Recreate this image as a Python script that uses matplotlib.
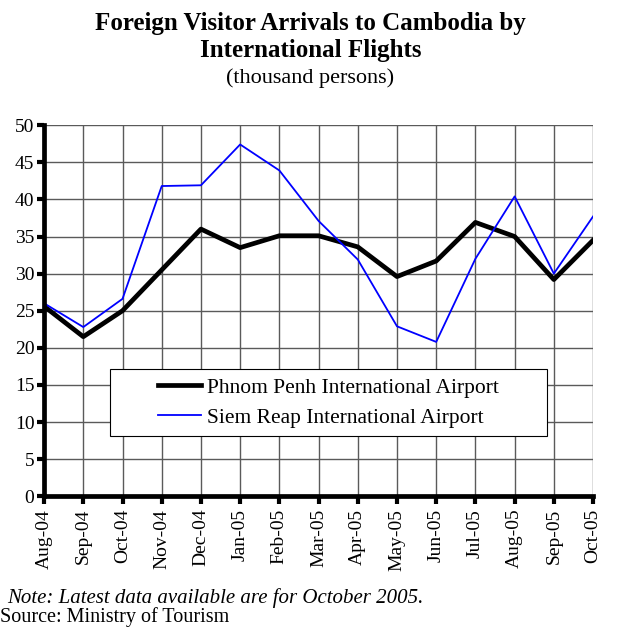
import matplotlib
matplotlib.use('Agg')
import matplotlib.pyplot as plt
from matplotlib.patches import Rectangle

plt.rcParams['font.family'] = ['Liberation Serif', 'DejaVu Serif']

# months and arrivals (thousand persons)
months = ['Aug-04', 'Sep-04', 'Oct-04', 'Nov-04', 'Dec-04', 'Jan-05', 'Feb-05', 'Mar-05',
          'Apr-05', 'May-05', 'Jun-05', 'Jul-05', 'Aug-05', 'Sep-05', 'Oct-05']
phnom_penh = [25.6, 21.5, 25.0, 30.5, 36.0, 33.5, 35.1, 35.1, 33.6, 29.6, 31.7, 36.9, 35.0, 29.2, 34.5]
siem_reap = [26.0, 22.8, 26.6, 41.8, 41.9, 47.4, 43.9, 37.1, 31.9, 22.9, 20.8, 32.0, 40.4, 30.0, 37.7]
y_ticks = [0, 5, 10, 15, 20, 25, 30, 35, 40, 45, 50]

fig = plt.figure(figsize=(6.21, 6.29), dpi=100)
ax = fig.add_axes([0.071, 0.211, 0.884, 0.590])

x = list(range(len(months)))
ax.plot(x, phnom_penh, color='black', linewidth=3.4, label='Phnom Penh International Airport', zorder=3)
ax.plot(x, siem_reap, color='blue', linewidth=1.3, label='Siem Reap International Airport', zorder=3)

ax.set_xlim(0, len(months) - 1)
ax.set_ylim(0, 50)
ax.set_xticks(x)
ax.set_xticklabels(months, rotation=90, fontsize=14)
ax.set_yticks(y_ticks)
ax.tick_params(axis='y', labelsize=14, length=5, width=3, pad=2)
ax.tick_params(axis='x', length=6, width=3, pad=3)

ax.grid(True, color='#5a5a5a', linewidth=1, zorder=1)
ax.set_axisbelow(True)
for side in ['top', 'right']:
    ax.spines[side].set_visible(False)
for side in ['left', 'bottom']:
    ax.spines[side].set_linewidth(3.4)
    ax.spines[side].set_zorder(4)

# legend box
box = Rectangle((0.12, 0.162), 0.796, 0.18, transform=ax.transAxes, facecolor='white',
                edgecolor='black', linewidth=0.8, zorder=4)
ax.add_patch(box)
leg = ax.legend(loc='center', bbox_to_anchor=(0.518, 0.252), frameon=False, fontsize=15.5,
                handlelength=2.0, handletextpad=0.25, labelspacing=0.45)
leg.set_zorder(5)

fig.text(0.5, 0.963, 'Foreign Visitor Arrivals to Cambodia by', ha='center', va='center',
         fontsize=18, fontweight='bold')
fig.text(0.5, 0.919, 'International Flights', ha='center', va='center',
         fontsize=18, fontweight='bold')
fig.text(0.5, 0.875, '(thousand persons)', ha='center', va='center', fontsize=16)

fig.text(0.012, 0.049, 'Note: Latest data available are for October 2005.', ha='left', va='center',
         fontsize=15, style='italic')
fig.text(0.0, 0.019, 'Source: Ministry of Tourism', ha='left', va='center', fontsize=14.5)

fig.savefig('out.png', dpi=100)
